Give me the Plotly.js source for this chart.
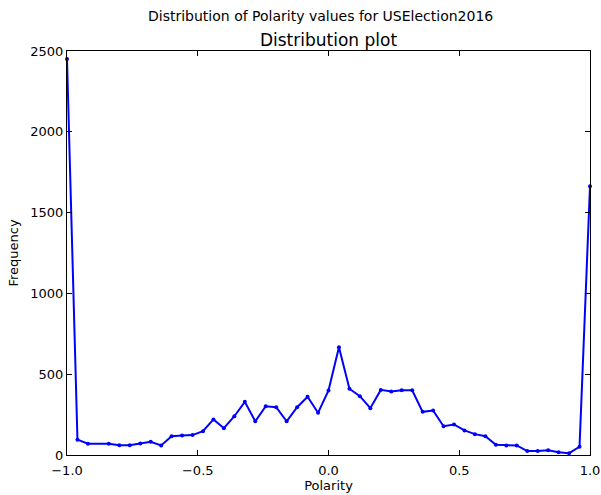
<!DOCTYPE html>
<html>
<head>
<meta charset="utf-8">
<script src="https://cdn.plot.ly/plotly-3.0.1.min.js"></script>
<style>
  html, body { margin: 0; padding: 0; background: #fff; }
  #chart { width: 601px; height: 495px; }
</style>
</head>
<body>
<div id="chart"></div>
<script>
// Polarity bin centres and their counts
const polarity = [
  -1.00, -0.96, -0.92, -0.84, -0.80, -0.76, -0.72, -0.68, -0.64, -0.60,
  -0.56, -0.52, -0.48, -0.44, -0.40, -0.36, -0.32, -0.28, -0.24, -0.20,
  -0.16, -0.12, -0.08, -0.04, 0.00, 0.04, 0.08, 0.12, 0.16, 0.20,
  0.24, 0.28, 0.32, 0.36, 0.40, 0.44, 0.48, 0.52, 0.56, 0.60,
  0.64, 0.68, 0.72, 0.76, 0.80, 0.84, 0.88, 0.92, 0.96, 1.00
];
const frequency = [
  2450, 95, 70, 70, 60, 60, 71, 82, 59, 116,
  121, 123, 147, 220, 166, 240, 329, 209, 302, 296,
  209, 296, 360, 261, 399, 667, 410, 364, 290, 403,
  393, 401, 401, 267, 275, 178, 189, 152, 129, 116,
  63, 59, 59, 24, 24, 30, 17, 11, 51, 1663
];

const xTickVals = [-1.0, -0.5, 0.0, 0.5, 1.0];
const xTickText = ['\u22121.0', '\u22120.5', '0.0', '0.5', '1.0'];
const yTickVals = [0, 500, 1000, 1500, 2000, 2500];

const font = 'DejaVu Sans, sans-serif';

const trace = {
  x: polarity,
  y: frequency,
  type: 'scatter',
  mode: 'lines+markers',
  line: { color: '#0000ff', width: 2 },
  marker: { color: '#0000ff', size: 4 },
  cliponaxis: false,
  hoverinfo: 'x+y'
};

const axisCommon = {
  showline: true,
  linecolor: '#000',
  linewidth: 1,
  mirror: 'ticks',
  ticks: 'inside',
  ticklen: 5,
  tickwidth: 1,
  tickcolor: '#000',
  showgrid: false,
  zeroline: false,
  tickfont: { family: font, size: 13, color: '#000' }
};

const layout = {
  width: 601,
  height: 495,
  margin: { l: 67, r: 11, t: 51, b: 40 },
  paper_bgcolor: '#fff',
  plot_bgcolor: '#fff',
  showlegend: false,
  font: { family: font, color: '#000' },
  title: {
    text: 'Distribution plot',
    font: { family: font, size: 17, color: '#000' },
    x: 0.5 * (67 + 590) / 601,
    xanchor: 'center',
    y: 1 - 40 / 495,
    yanchor: 'middle'
  },
  xaxis: Object.assign({}, axisCommon, {
    range: [-1.0, 1.0],
    tickmode: 'array',
    tickvals: xTickVals,
    ticktext: xTickText,
    ticklabelstandoff: 3,
    title: { text: 'Polarity', font: { family: font, size: 13, color: '#000' }, standoff: 4 }
  }),
  yaxis: Object.assign({}, axisCommon, {
    range: [0, 2500],
    tickmode: 'array',
    tickvals: yTickVals,
    title: { text: 'Frequency', font: { family: font, size: 13, color: '#000' }, standoff: 8 }
  }),
  annotations: [{
    text: 'Distribution of Polarity values for USElection2016',
    xref: 'paper', yref: 'paper',
    x: (320 - 67) / 523, y: 1 + (51 - 16) / 404,
    xanchor: 'center', yanchor: 'middle',
    showarrow: false,
    font: { family: font, size: 14, color: '#000' }
  }]
};

Plotly.newPlot('chart', [trace], layout, { displayModeBar: false, staticPlot: true });
</script>
</body>
</html>
